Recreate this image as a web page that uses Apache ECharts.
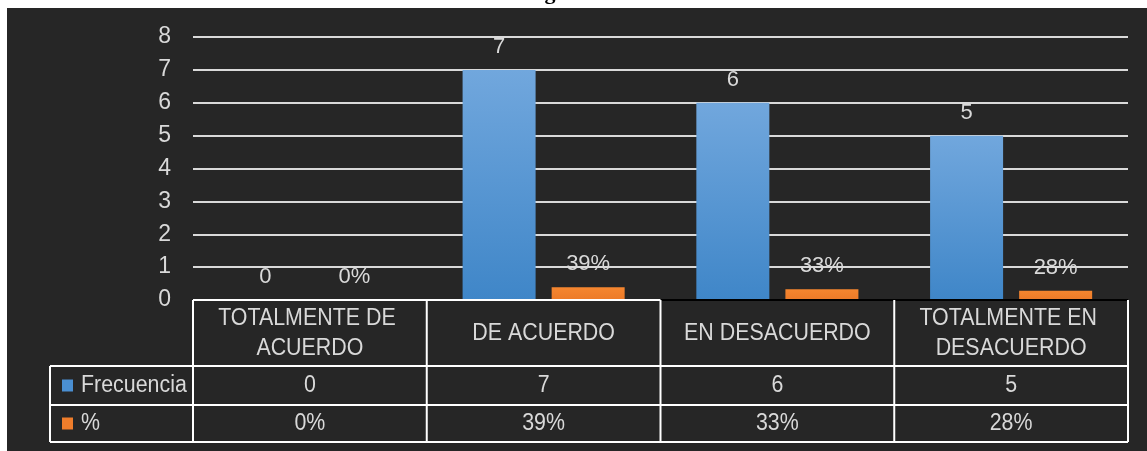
<!DOCTYPE html>
<html>
<head>
<meta charset="utf-8">
<script src="https://cdn.jsdelivr.net/npm/echarts@6/dist/echarts.min.js"></script>
<style>
html,body{margin:0;padding:0;background:#ffffff;}
#chart{width:1147px;height:451px;}
</style>
</head>
<body>
<div id="chart"></div>
<script>
var categories = ['TOTALMENTE DE ACUERDO', 'DE ACUERDO', 'EN DESACUERDO', 'TOTALMENTE EN DESACUERDO'];
var frecuencia = [0, 7, 6, 5];
var porcentaje = [0, 0.39, 0.33, 0.28];
var seriesNames = ['Frecuencia', '%'];
var yTicks = [0, 1, 2, 3, 4, 5, 6, 7, 8];

var FONT = '"Liberation Sans", Arial, sans-serif';
var TXT = '#d9d9d9';
var BLUE = new echarts.graphic.LinearGradient(0, 0, 0, 1, [
  {offset: 0, color: '#71a7dd'}, {offset: 1, color: '#3f86c8'}]);
var ORANGE = new echarts.graphic.LinearGradient(0, 0, 0, 1, [
  {offset: 0, color: '#f5862f'}, {offset: 1, color: '#ec7a28'}]);
function pct(v) { return Math.round(v * 100) + '%'; }

var chart = echarts.init(document.getElementById('chart'), null, {renderer: 'canvas'});
var option = {
  backgroundColor: '#ffffff',
  animation: false,
  grid: {left: 193, right: 19, top: 37, bottom: 151},
  xAxis: {
    type: 'category', data: categories,
    axisLine: {show: false}, axisTick: {show: false}, axisLabel: {show: false}
  },
  yAxis: {
    type: 'value', min: yTicks[0], max: yTicks[yTicks.length - 1], interval: 1,
    axisLine: {show: false}, axisTick: {show: false},
    axisLabel: {color: TXT, fontSize: 23, fontFamily: FONT, margin: 22},
    splitLine: {lineStyle: {color: '#d9d9d9', width: 2}}
  },
  series: [
    {
      name: seriesNames[0], type: 'bar', data: frecuencia,
      barWidth: 73, barGap: '22%',
      itemStyle: {color: BLUE},
      label: {show: true, position: 'top', distance: 12, color: TXT, fontSize: 22, fontFamily: FONT}
    },
    {
      name: seriesNames[1], type: 'bar', data: porcentaje,
      barWidth: 73,
      itemStyle: {color: ORANGE},
      label: {show: true, position: 'top', distance: 12, color: TXT, fontSize: 22, fontFamily: FONT,
        formatter: function (p) { return pct(p.value); }}
    }
  ]
};
chart.setOption(option);

function buildTable() {
  var n = categories.length;
  var c0 = chart.convertToPixel({xAxisIndex: 0}, categories[0]);
  var c1 = chart.convertToPixel({xAxisIndex: 0}, categories[1]);
  var cw = c1 - c0;
  var x0 = c0 - cw / 2;
  var xEnd = x0 + n * cw;
  var yTop = chart.convertToPixel({yAxisIndex: 0}, 0);
  var rowH = [66, 39, 37];
  var y1 = yTop + rowH[0], y2 = y1 + rowH[1], y3 = y2 + rowH[2];
  var legX = 50;
  var g = [];
  g.push({type: 'rect', z: -100, shape: {x: 7, y: 8, width: 1140, height: 443}, style: {fill: '#262626'}});
  g.push({type: 'text', z: 100, style: {text: 'g', x: 550, y: 4, align: 'center', verticalAlign: 'bottom',
    fill: '#000', font: 'bold 22px "Liberation Serif", serif'}});
  var L = function (xa, ya, xb, yb, col) {
    g.push({type: 'line', z: 50, shape: {x1: xa, y1: ya, x2: xb, y2: yb},
      style: {stroke: col || '#ffffff', lineWidth: 2}});
  };
  L(x0, yTop, x0 + 2 * cw, yTop, '#ffffff');
  L(x0 + 2 * cw, yTop, xEnd, yTop, '#000000');
  L(legX, y1, xEnd, y1);
  L(legX, y2, xEnd, y2);
  L(legX, y3, xEnd, y3);
  L(legX, y1, legX, y3);
  for (var i = 0; i <= n; i++) {
    var xx = x0 + i * cw;
    L(xx, yTop, xx, y3);
  }
  var T = function (s, x, y, align, w) {
    var st = {text: s, x: 0, y: 0, align: align || 'center', verticalAlign: 'middle',
      fill: TXT, font: '23px ' + FONT, lineHeight: 30};
    if (w) { st.width = w; st.overflow = 'break'; }
    g.push({type: 'text', z: 60, x: x, y: y, scaleX: 0.93, style: st});
  };
  for (var j = 0; j < n; j++) {
    var cx = x0 + (j + 0.5) * cw;
    T(categories[j], cx, (yTop + y1) / 2 + 1, 'center', 215);
    T(String(frecuencia[j]), cx, (y1 + y2) / 2);
    T(pct(porcentaje[j]), cx, (y2 + y3) / 2);
  }
  g.push({type: 'rect', z: 60, shape: {x: 62, y: (y1 + y2) / 2 - 6, width: 11, height: 12}, style: {fill: '#4a8fd2'}});
  g.push({type: 'rect', z: 60, shape: {x: 62, y: (y2 + y3) / 2 - 6, width: 11, height: 12}, style: {fill: '#ef7d2b'}});
  T(seriesNames[0], 81, (y1 + y2) / 2, 'left');
  T(seriesNames[1], 81, (y2 + y3) / 2, 'left');
  chart.setOption({graphic: g});
}
buildTable();
</script>
</body>
</html>
